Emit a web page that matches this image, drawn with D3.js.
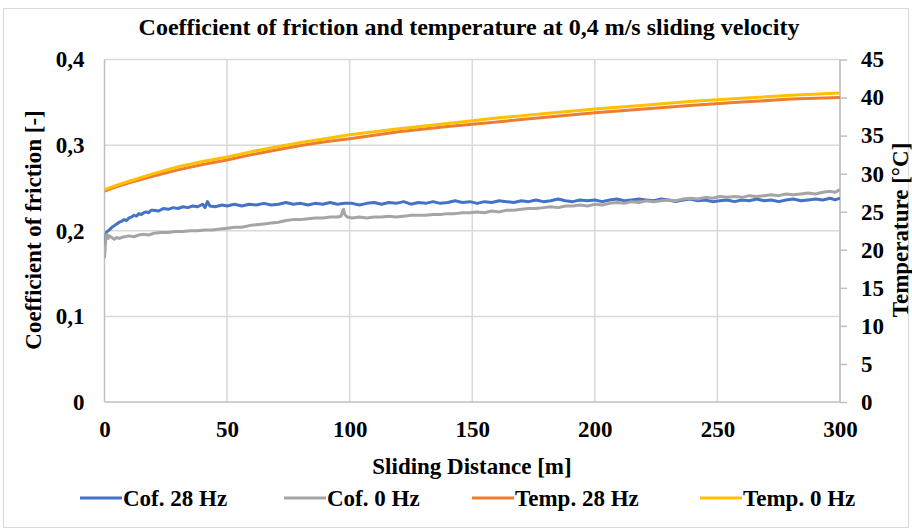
<!DOCTYPE html>
<html><head><meta charset="utf-8">
<script src="https://cdn.jsdelivr.net/npm/d3@7"></script>
<style>body{margin:0;background:#fff} svg{display:block}</style>
</head><body><svg id="c" width="912" height="530"></svg>
<script>
const chartTitle = "Coefficient of friction and temperature at 0,4 m/s sliding velocity";
const xTitle = "Sliding Distance [m]";
const yLeftTitle = "Coefficient of friction [-]";
const yRightTitle = "Temperature [°C]";
const xTicks = [0, 50, 100, 150, 200, 250, 300];
const cofTicks = [0, 0.1, 0.2, 0.3, 0.4];
const cofTickLabels = ["0", "0,1", "0,2", "0,3", "0,4"];
const tempTicks = [0, 5, 10, 15, 20, 25, 30, 35, 40, 45];
const seriesNames = ["Cof. 28 Hz", "Cof. 0 Hz", "Temp. 28 Hz", "Temp. 0 Hz"];
const seriesColors = ["#4472C4", "#A5A5A5", "#ED7D31", "#FFC000"];

const dist28 = [0,0.5,1,2,3,4,5,6,7,8,9,10,11,12,13,14,15,16,17,18,19,20,22,24,26,28,30,32,34,36,38,40,41,42,43,45,48,50,53,56,59,62,65,68,71,74,77,80,83,86,89,92,95,98,101,104,107,110,113,116,119,122,125,128,131,134,137,140,143,146,149,152,155,158,161,164,167,170,173,176,179,182,185,188,191,194,197,200,203,206,209,212,215,218,221,224,227,230,233,236,239,242,245,248,251,254,257,260,263,266,269,272,275,278,281,284,287,290,293,296,298,300];
const cof28 = [0.183,0.195,0.199,0.201,0.204,0.206,0.208,0.210,0.211,0.213,0.212,0.215,0.216,0.218,0.217,0.220,0.219,0.221,0.222,0.221,0.224,0.224,0.223,0.226,0.225,0.227,0.226,0.228,0.227,0.229,0.228,0.231,0.227,0.234,0.229,0.228,0.230,0.229,0.231,0.229,0.231,0.230,0.232,0.230,0.231,0.233,0.231,0.232,0.230,0.232,0.231,0.233,0.231,0.232,0.232,0.230,0.232,0.233,0.231,0.233,0.232,0.234,0.231,0.233,0.232,0.234,0.232,0.233,0.235,0.233,0.234,0.232,0.234,0.233,0.235,0.234,0.233,0.235,0.234,0.236,0.234,0.235,0.237,0.235,0.234,0.236,0.235,0.236,0.234,0.236,0.237,0.235,0.236,0.237,0.236,0.235,0.237,0.236,0.234,0.236,0.237,0.235,0.236,0.234,0.235,0.236,0.234,0.236,0.235,0.237,0.235,0.236,0.234,0.236,0.237,0.235,0.236,0.237,0.236,0.238,0.236,0.238];

const dist0 = [0,0.3,0.6,1,1.5,2,3,4,5,6,8,10,12,14,16,18,20,23,26,29,32,35,38,41,44,47,50,53,56,59,62,65,68,71,74,77,80,83,86,89,92,95,96.5,97,97.5,98,99,101,104,107,110,113,116,119,122,125,128,131,134,137,140,143,146,149,152,155,158,161,164,167,170,173,176,179,182,185,188,191,194,197,200,203,206,209,212,215,218,221,224,227,230,233,236,239,242,245,248,251,254,257,260,263,266,269,272,275,278,281,284,287,290,293,296,298,300];
const cof0 = [0.168,0.182,0.193,0.196,0.191,0.194,0.192,0.190,0.192,0.191,0.193,0.194,0.193,0.195,0.196,0.195,0.197,0.198,0.198,0.199,0.199,0.200,0.200,0.201,0.201,0.202,0.203,0.204,0.204,0.206,0.207,0.208,0.209,0.210,0.212,0.213,0.213,0.214,0.215,0.215,0.216,0.216,0.217,0.222,0.225,0.219,0.216,0.215,0.216,0.215,0.216,0.216,0.217,0.216,0.217,0.218,0.218,0.218,0.219,0.219,0.220,0.220,0.221,0.221,0.222,0.221,0.223,0.222,0.224,0.224,0.225,0.226,0.226,0.227,0.228,0.227,0.229,0.229,0.230,0.229,0.231,0.230,0.232,0.233,0.232,0.234,0.233,0.235,0.234,0.235,0.236,0.235,0.237,0.238,0.237,0.239,0.238,0.240,0.239,0.240,0.239,0.241,0.240,0.241,0.242,0.241,0.243,0.242,0.243,0.244,0.243,0.245,0.246,0.245,0.248];

const distT = [0,5,10,20,30,40,50,60,70,80,90,100,120,140,160,180,200,220,240,260,280,300];
const temp28 = [27.7,28.3,28.8,29.7,30.5,31.2,31.8,32.5,33.1,33.7,34.2,34.6,35.5,36.2,36.8,37.4,38.0,38.5,39.0,39.4,39.8,40.0];
const temp0 = [27.9,28.5,29.0,30.0,30.9,31.6,32.2,32.9,33.5,34.1,34.6,35.1,35.9,36.6,37.3,37.9,38.5,39.0,39.5,39.9,40.3,40.6];

const svg = d3.select("#c");
const W = 912, H = 530;
const m = {left: 104.5, right: 840, top: 59.5, bottom: 402};
const font = "'Liberation Serif','Times New Roman',serif";
const fs = 23;

svg.append("rect").attr("x", 3.5).attr("y", 8.5).attr("width", W - 7).attr("height", H - 11)
  .attr("fill", "#fff").attr("stroke", "#d9d9d9").attr("stroke-width", 1);

const x = d3.scaleLinear().domain([0, 300]).range([m.left, m.right]);
const yL = d3.scaleLinear().domain([0, 0.4]).range([m.bottom, m.top]);
const yR = d3.scaleLinear().domain([0, 45]).range([m.bottom, m.top]);

// gridlines
const grid = svg.append("g").attr("stroke", "#d9d9d9").attr("stroke-width", 1.5);
grid.selectAll("line.h").data(cofTicks.slice(1)).join("line")
  .attr("x1", m.left).attr("x2", m.right).attr("y1", d => yL(d)).attr("y2", d => yL(d));
grid.selectAll("line.v").data(xTicks.slice(1)).join("line")
  .attr("y1", m.top).attr("y2", m.bottom).attr("x1", d => x(d)).attr("x2", d => x(d));

// axes
const axisColor = "#bfbfbf";
const gx = svg.append("g").attr("transform", `translate(0,${m.bottom})`)
  .call(d3.axisBottom(x).tickValues(xTicks).tickSize(0).tickPadding(19).tickFormat(d3.format("d")));
const gl = svg.append("g").attr("transform", `translate(${m.left},0)`)
  .call(d3.axisLeft(yL).tickValues(cofTicks).tickSize(0).tickPadding(20).tickFormat((d, i) => cofTickLabels[i]));
const gr = svg.append("g").attr("transform", `translate(${m.right},0)`)
  .call(d3.axisRight(yR).tickValues(tempTicks).tickSize(7).tickPadding(14).tickFormat(d3.format("d")));
[gx, gl, gr].forEach(g => {
  g.select(".domain").attr("stroke", axisColor).attr("stroke-width", 1.5);
  g.selectAll(".tick line").attr("stroke", axisColor).attr("stroke-width", 1.5);
  g.selectAll("text").attr("font-family", font).attr("font-weight", "bold").attr("font-size", fs).attr("fill", "#000");
});
gx.select(".domain").attr("d", `M${m.left},0H${m.right}`);
gl.select(".domain").attr("d", `M0,${m.top}V${m.bottom}`);
gr.select(".domain").attr("d", `M0,${m.top}V${m.bottom}`);

// lines
svg.append("clipPath").attr("id", "clip").append("rect")
  .attr("x", m.left).attr("y", m.top - 5).attr("width", m.right - m.left).attr("height", m.bottom - m.top + 5);
const plot = svg.append("g").attr("clip-path", "url(#clip)");
const lineL = d3.line().x(d => x(d[0])).y(d => yL(d[1]));
const lineR = d3.line().x(d => x(d[0])).y(d => yR(d[1]));
const series = [
  {pts: d3.zip(dist28, cof28), line: lineL, c: seriesColors[0]},
  {pts: d3.zip(dist0, cof0), line: lineL, c: seriesColors[1]},
  {pts: d3.zip(distT, temp28), line: lineR, c: seriesColors[2]},
  {pts: d3.zip(distT, temp0), line: lineR, c: seriesColors[3]}
];
series.forEach(s => {
  plot.append("path").attr("d", s.line(s.pts)).attr("fill", "none")
    .attr("stroke", s.c).attr("stroke-width", 3).attr("stroke-linejoin", "round");
});

// titles
svg.append("text").attr("x", 469).attr("y", 35).attr("text-anchor", "middle")
  .attr("font-family", font).attr("font-weight", "bold").attr("font-size", 24).text(chartTitle);
svg.append("text").attr("x", 472).attr("y", 474).attr("text-anchor", "middle")
  .attr("font-family", font).attr("font-weight", "bold").attr("font-size", fs).text(xTitle);
svg.append("text").attr("transform", `translate(41,230) rotate(-90)`).attr("text-anchor", "middle")
  .attr("font-family", font).attr("font-weight", "bold").attr("font-size", fs).text(yLeftTitle);
svg.append("text").attr("transform", `translate(908,230) rotate(-90)`).attr("text-anchor", "middle")
  .attr("font-family", font).attr("font-weight", "bold").attr("font-size", fs).text(yRightTitle);

// legend
const legX = [80, 284, 472, 700];
const leg = svg.append("g");
seriesNames.forEach((n, i) => {
  leg.append("line").attr("x1", legX[i]).attr("x2", legX[i] + 42).attr("y1", 498).attr("y2", 498)
    .attr("stroke", seriesColors[i]).attr("stroke-width", 3);
  leg.append("text").attr("x", legX[i] + 43).attr("y", 506).attr("font-family", font)
    .attr("font-weight", "bold").attr("font-size", fs).text(n);
});
</script></body></html>
